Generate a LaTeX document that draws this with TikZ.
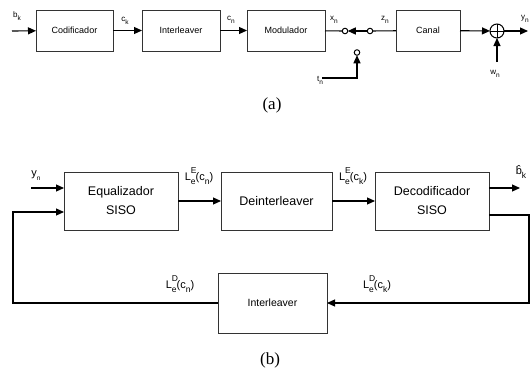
\documentclass[tikz,border=0pt]{standalone}
\usepackage{fontspec}
\setmainfont{Liberation Serif}
\setsansfont{Liberation Sans}
\usetikzlibrary{arrows.meta}
\newcommand{\sbx}[2]{#1\raisebox{-0.7ex}{\fontsize{6.5}{6.5}\selectfont #2}}
\newcommand{\Lext}[2]{L\rlap{\raisebox{1.25ex}{\fontsize{8.5}{8.5}\selectfont #1}}\raisebox{-0.6ex}{\fontsize{8.5}{8.5}\selectfont e}(c\raisebox{-0.6ex}{\fontsize{8.5}{8.5}\selectfont #2})}
\begin{document}
\begin{tikzpicture}[x=1pt,y=-1pt,
  blk/.style={draw=black!80, line width=0.7pt, outer sep=0pt, inner sep=0pt, anchor=north west, align=center},
  sblk/.style={blk, minimum height=41pt, font=\sffamily\fontsize{9}{10}\selectfont},
  bblk/.style={blk, minimum height=58pt, font=\sffamily\fontsize{12.5}{19}\selectfont},
  wire/.style={line width=1.1pt},
  arr/.style={wire, -{Triangle[length=8pt,width=7pt]}},
  sw/.style={circle, draw, line width=1pt, minimum size=5.5pt, inner sep=0pt, outer sep=0pt},
  slab/.style={font=\sffamily\fontsize{8}{8}\selectfont, inner sep=0pt},
  blab/.style={font=\sffamily\fontsize{11}{11}\selectfont, inner sep=0pt},
  captxt/.style={font=\fontsize{17}{17}\selectfont, inner sep=0pt}]
\useasboundingbox (0,0) rectangle (531,372);
% ---------- (a) ----------
\node[sblk, minimum width=77pt] (cod) at (36,10) {Codificador};
\node[sblk, minimum width=78pt] (int) at (142,10) {Interleaver};
\node[sblk, minimum width=78pt] (mod) at (247,10) {Modulador};
\node[sblk, minimum width=64pt] (can) at (396,10) {Canal};
\node[sw] (s1) at (345,31) {};
\node[sw] (s2) at (370,31) {};
\node[sw] (s3) at (357,52.5) {};
\node[circle, draw, line width=1pt, minimum size=14pt, inner sep=0pt, outer sep=0pt] (sum) at (497,31) {};
\draw[line width=1pt] (sum.north) -- (sum.south) (sum.west) -- (sum.east);
\coordinate (bin) at (12,31);
\coordinate (yout) at (528,31);
\coordinate (win) at (497,62);
\coordinate (tstart) at (322,78);
\coordinate (tcorner) at (357,78);
\draw[arr] (bin) -- (cod);
\draw[arr] (cod) -- (int);
\draw[arr] (int) -- (mod);
\draw[wire] (mod) -- (s1);
\draw[arr] (s2) -- (s1);
\draw[wire] (s2) -- (can);
\draw[arr] (can) -- (sum);
\draw[arr] (sum) -- (yout);
\draw[arr] (win) -- (sum);
\draw[arr] (tstart) -- (tcorner) -- (s3);
\node[slab] (lbk) at (17,16) {\sbx{b}{k}};
\node[slab] (lck) at (125,21) {\sbx{c}{k}};
\node[slab] (lcn) at (231,20) {\sbx{c}{n}};
\node[slab] (lxn) at (334,20) {\sbx{x}{n}};
\node[slab] (lzn) at (385,20) {\sbx{z}{n}};
\node[slab] (lyn) at (525,19) {\sbx{y}{n}};
\node[slab] (lwn) at (495,74) {\sbx{w}{n}};
\node[slab] (ltn) at (320,80) {\sbx{t}{n}};
\node[captxt] (capa) at (272,105) {(a)};
% ---------- (b) ----------
\node[bblk, minimum width=114pt] (eq) at (64,172) {Equalizador\\SISO};
\node[bblk, minimum width=111pt] (dei) at (221,172) {Deinterleaver};
\node[bblk, minimum width=114pt] (dec) at (375,172) {Decodificador\\SISO};
\node[blk, minimum width=109pt, minimum height=60pt, font=\sffamily\fontsize{10.5}{12}\selectfont] (int2) at (218,273) {Interleaver};
\coordinate (yin) at (31,188);
\coordinate (fbin) at (13,212);
\coordinate (fbl) at (13,303);
\coordinate (bout) at (520,188);
\coordinate (fbr1) at (529,215);
\coordinate (fbr2) at (529,303);
\draw[arr] (yin) -- (yin -| eq.west);
\draw[arr] (int2.west) -- (fbl) -- (fbin) -- (fbin -| eq.west);
\draw[arr] (eq) -- (dei);
\draw[arr] (dei) -- (dec);
\draw[arr] (bout -| dec.east) -- (bout);
\draw[arr] (fbr1 -| dec.east) -- (fbr1) -- (fbr2) -- (int2.east);
\node[blab] (lyn2) at (36,176) {\sbx{y}{n}};
\node[blab] (lbh) at (521,172) {\^{b}\raisebox{-0.7ex}{\fontsize{8.5}{8.5}\selectfont k}};
\node[blab] (l1) at (199,176) {\Lext{E}{n}};
\node[blab] (l2) at (353,176) {\Lext{E}{k}};
\node[blab] (l3) at (180,284) {\Lext{D}{n}};
\node[blab] (l4) at (377,284) {\Lext{D}{k}};
\node[captxt] (capb) at (270,360) {(b)};
\end{tikzpicture}
\end{document}
